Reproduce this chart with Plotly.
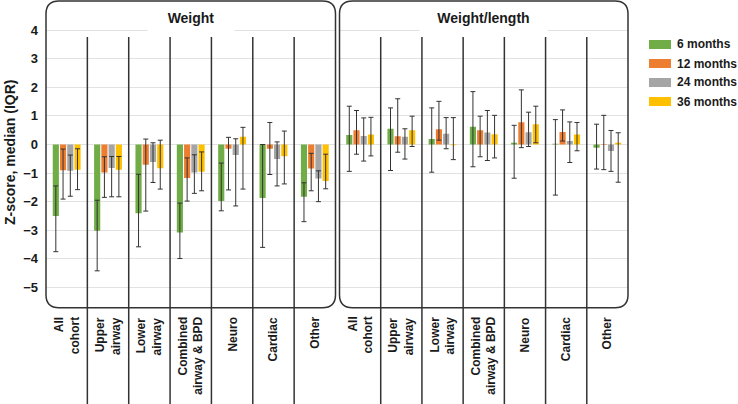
import plotly.graph_objects as go

# ---------------- data ----------------
categories = ["All cohort", "Upper airway", "Lower airway", "Combined airway & BPD",
              "Neuro", "Cardiac", "Other"]
category_labels = ["All<br>cohort", "Upper<br>airway", "Lower<br>airway",
                   "Combined<br>airway & BPD", "Neuro", "Cardiac", "Other"]
series_names = ["6 months", "12 months", "24 months", "36 months"]
y_ticks = [-5, -4, -3, -2, -1, 0, 1, 2, 3, 4]

# Weight z-score: median, lower quartile, upper quartile (per series)
weight_median_6 = [-2.50, -3.02, -2.41, -3.08, -1.98, -1.87, -1.83]
weight_median_12 = [-0.90, -0.98, -0.71, -1.17, -0.15, -0.15, -0.84]
weight_median_24 = [-0.92, -0.82, -0.61, -0.98, -0.37, -0.51, -1.19]
weight_median_36 = [-0.88, -0.88, -0.83, -0.95, 0.27, -0.41, -1.28]

weight_q1_6 = [-3.75, -4.42, -3.58, -3.99, -2.32, -3.60, -2.70]
weight_q1_12 = [-1.91, -1.85, -2.33, -1.98, -1.59, -1.05, -1.62]
weight_q1_24 = [-1.81, -1.83, -1.33, -1.71, -2.15, -1.45, -2.00]
weight_q1_36 = [-1.58, -1.83, -1.56, -1.62, -1.56, -1.38, -1.55]

weight_q3_6 = [-1.45, -1.95, -1.04, -2.05, -0.65, 0.00, -1.34]
weight_q3_12 = [-0.16, -0.43, 0.19, -0.47, 0.25, 0.77, -0.31]
weight_q3_24 = [-0.37, -0.42, 0.06, -0.36, 0.20, 0.09, -0.92]
weight_q3_36 = [-0.15, -0.42, 0.15, -0.26, 0.60, 0.47, -0.34]

# Weight/length z-score
wl_median_6 = [0.33, 0.55, 0.19, 0.62, 0.06, 0.03, -0.11]
wl_median_12 = [0.50, 0.29, 0.53, 0.50, 0.78, 0.44, 0.02]
wl_median_24 = [0.30, 0.27, 0.38, 0.42, 0.43, 0.12, -0.23]
wl_median_36 = [0.35, 0.50, -0.03, 0.36, 0.71, 0.35, 0.06]

wl_q1_6 = [-0.94, -0.91, -0.97, -0.78, -1.18, -1.77, -0.86]
wl_q1_12 = [-0.34, -0.27, 0.15, -0.43, -0.11, 0.12, -0.88]
wl_q1_24 = [-0.58, -0.51, -0.15, -0.56, -0.07, -0.63, -0.94]
wl_q1_36 = [-0.40, -0.07, -0.53, -0.47, 0.06, -0.22, -1.32]

wl_q3_6 = [1.34, 1.28, 1.28, 1.85, 0.67, 0.87, 0.71]
wl_q3_12 = [1.19, 1.60, 1.51, 0.99, 1.91, 1.21, 1.02]
wl_q3_24 = [0.93, 0.55, 0.94, 1.19, 1.13, 0.79, 0.49]
wl_q3_36 = [0.95, 0.99, 0.94, 1.02, 1.34, 0.77, 0.41]

# ---------------- styling ----------------
colors = ["#70AD47", "#ED7D31", "#A5A5A5", "#FFC000"]
FONT = "Liberation Sans, Arial, Helvetica, sans-serif"
TXT = "#1a1a1a"
LINE = "#333333"
W, H = 738, 404


def X(px):
    return px / W


def Y(py):
    return 1 - py / H


panels = [
    ("Weight", "x",
     [weight_median_6, weight_median_12, weight_median_24, weight_median_36],
     [weight_q1_6, weight_q1_12, weight_q1_24, weight_q1_36],
     [weight_q3_6, weight_q3_12, weight_q3_24, weight_q3_36]),
    ("Weight/length", "x2",
     [wl_median_6, wl_median_12, wl_median_24, wl_median_36],
     [wl_q1_6, wl_q1_12, wl_q1_24, wl_q1_36],
     [wl_q3_6, wl_q3_12, wl_q3_24, wl_q3_36]),
]

fig = go.Figure()
for title, xa, meds, q1s, q3s in panels:
    for s in range(4):
        med, lo, hi = meds[s], q1s[s], q3s[s]
        fig.add_trace(go.Bar(
            x=categories, y=med, name=series_names[s],
            marker=dict(color=colors[s], line=dict(width=0)),
            error_y=dict(type="data", symmetric=False,
                         array=[h - m for h, m in zip(hi, med)],
                         arrayminus=[m - l for m, l in zip(med, lo)],
                         color=LINE, thickness=1, width=2.5),
            xaxis=xa, yaxis="y", showlegend=False,
        ))

# panel geometry (pixels)
box_top, box_bot = 1.0, 307.7
domains = [(46.0, 335.5), (339.5, 628.0)]

axis_common = dict(showticklabels=False, showgrid=False, zeroline=False,
                   showline=False, ticks="", fixedrange=True)
fig.update_layout(
    width=W, height=H, autosize=False,
    margin=dict(l=0, r=0, t=0, b=0),
    paper_bgcolor="white", plot_bgcolor="white",
    barmode="group", bargap=0.3, bargroupgap=0.15,
    xaxis=dict(domain=[X(domains[0][0]), X(domains[0][1])], anchor="y", **axis_common),
    xaxis2=dict(domain=[X(domains[1][0]), X(domains[1][1])], anchor="y", **axis_common),
    yaxis=dict(domain=[Y(box_bot), Y(box_top)], range=[-5.71, 5.02],
               tickvals=y_ticks, showgrid=True, gridcolor="#e2e2e2", gridwidth=1,
               zeroline=False, showline=False, ticks="", ticklabelstandoff=7,
               tickfont=dict(family=FONT, size=13, color=TXT, weight="bold"),
               fixedrange=True),
    font=dict(family=FONT, color=TXT),
)

shapes = []
annotations = []


def rounded_box(x0, x1, y0, y1, r):
    p = (f"M {X(x0 + r)},{Y(y0)} L {X(x1 - r)},{Y(y0)} "
         f"Q {X(x1)},{Y(y0)} {X(x1)},{Y(y0 + r)} "
         f"L {X(x1)},{Y(y1 - r)} Q {X(x1)},{Y(y1)} {X(x1 - r)},{Y(y1)} "
         f"L {X(x0 + r)},{Y(y1)} Q {X(x0)},{Y(y1)} {X(x0)},{Y(y1 - r)} "
         f"L {X(x0)},{Y(y0 + r)} Q {X(x0)},{Y(y0)} {X(x0 + r)},{Y(y0)} Z")
    return dict(type="path", xref="paper", yref="paper", path=p,
                line=dict(color=LINE, width=1.5), fillcolor="rgba(0,0,0,0)",
                layer="above")


title_widths = [84, 125]
n = len(categories)
for pi, ((d0, d1), (title, xa, *_)) in enumerate(zip(domains, panels)):
    shapes.append(rounded_box(d0, d1, box_top, box_bot, 13))
    for k in range(1, n):
        xp = d0 + (d1 - d0) * k / n
        shapes.append(dict(type="line", xref="paper", yref="paper",
                           x0=X(xp), x1=X(xp), y0=Y(404), y1=Y(37),
                           line=dict(color=LINE, width=1.5), layer="above"))
    annotations.append(dict(
        text=title, xref="paper", yref="paper", x=X((d0 + d1) / 2), y=Y(18),
        showarrow=False, xanchor="center", yanchor="middle",
        bgcolor="white", width=title_widths[pi], height=26,
        font=dict(family=FONT, size=14, color=TXT, weight="bold")))
    for i, lab in enumerate(category_labels):
        annotations.append(dict(
            text=lab, xref=xa, yref="paper", x=i, y=Y(315),
            showarrow=False, textangle=-90, xanchor="center", yanchor="top",
            align="right",
            font=dict(family=FONT, size=12, color=TXT, weight="bold")))

# y-axis title
annotations.append(dict(
    text="Z-score, median (IQR)", xref="paper", yref="paper", x=X(10),
    y=Y(153), showarrow=False, textangle=-90, xanchor="center", yanchor="middle",
    font=dict(family=FONT, size=14, color=TXT, weight="bold")))

# legend (swatches + labels)
leg_y = [44.5, 63.5, 82.5, 101.5]
for s in range(4):
    shapes.append(dict(type="rect", xref="paper", yref="paper",
                       x0=X(649), x1=X(671), y0=Y(leg_y[s] + 4.5), y1=Y(leg_y[s] - 4.5),
                       fillcolor=colors[s], line=dict(width=0)))
    annotations.append(dict(
        text=series_names[s], xref="paper", yref="paper", x=X(675), y=Y(leg_y[s]),
        showarrow=False, xanchor="left", yanchor="middle",
        font=dict(family=FONT, size=12, color=TXT, weight="bold")))

fig.update_layout(shapes=shapes, annotations=annotations)
fig.write_html("out.html",
               config={"displayModeBar": False, "staticPlot": True},
               post_script="document.body.style.margin='0';document.body.style.padding='0';")
